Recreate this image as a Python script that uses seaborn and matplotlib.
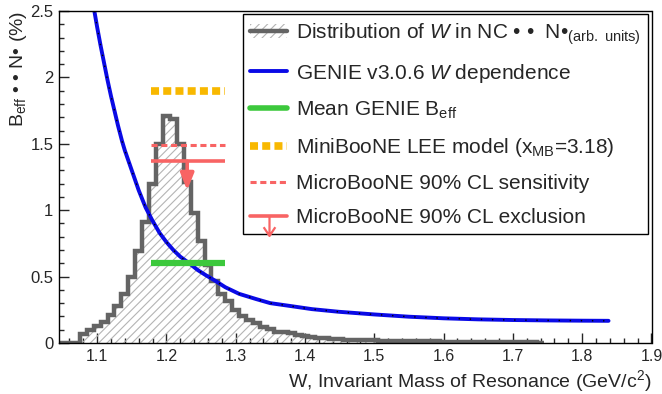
import numpy as np
import pandas as pd
import matplotlib
matplotlib.use("Agg")
import matplotlib.pyplot as plt
import matplotlib.transforms as mtransforms
from matplotlib.lines import Line2D
from matplotlib.patches import Patch
from matplotlib.path import Path
from matplotlib.ticker import MultipleLocator, FuncFormatter
import seaborn as sns

# histogram of W in NC events (arb. units), bin width 0.01 starting at 1.045
w_start = 1.045
bin_width = 0.01
hist_vals = [0, 0, 0, 0.07, 0.10, 0.13, 0.16, 0.21, 0.28, 0.37,
             0.50, 0.69, 0.91, 1.20, 1.50, 1.71, 1.69, 1.50, 1.21, 0.98,
             0.77, 0.59, 0.47, 0.37, 0.32, 0.25, 0.20, 0.17, 0.15, 0.12,
             0.105, 0.085, 0.08, 0.075, 0.06, 0.055, 0.045, 0.04, 0.04, 0.03,
             0.03, 0.025, 0.025, 0.025, 0.025, 0.02, 0.015, 0.015, 0.015, 0.015,
             0.015, 0.015, 0.015, 0.015, 0.015, 0.01, 0.01, 0.01, 0.01, 0.005,
             0.005, 0.005, 0.005, 0.005, 0.005, 0.005, 0.005, 0.005, 0.005, 0]

# GENIE v3.0.6 W dependence
genie_w = [1.096, 1.100, 1.105, 1.110, 1.115, 1.120, 1.125, 1.130, 1.136, 1.140,
           1.150, 1.160, 1.170, 1.180, 1.190, 1.200, 1.210, 1.220, 1.233, 1.245,
           1.257, 1.270, 1.285, 1.305, 1.330, 1.350, 1.377, 1.410, 1.449, 1.500,
           1.550, 1.600, 1.650, 1.700, 1.750, 1.800, 1.838]
genie_b = [2.50, 2.38, 2.24, 2.11, 1.98, 1.86, 1.75, 1.64, 1.52, 1.45,
           1.30, 1.15, 1.02, 0.92, 0.83, 0.76, 0.70, 0.65, 0.60, 0.55,
           0.51, 0.47, 0.42, 0.37, 0.33, 0.30, 0.28, 0.255, 0.235, 0.215,
           0.198, 0.186, 0.178, 0.173, 0.170, 0.168, 0.167]

# horizontal bands
band_w = [1.178, 1.285]
mean_beff = 0.60
miniboone = 1.90
sensitivity = 1.49
exclusion = 1.37
arrow_w = 1.23
arrow_tip = 1.15

edges = np.round(w_start + bin_width * np.arange(len(hist_vals) + 1), 4)
df_genie = pd.DataFrame({"W": genie_w, "B": genie_b})

sns.set_style("ticks")
plt.rcParams["font.family"] = ["Liberation Sans", "DejaVu Sans"]
plt.rcParams["mathtext.fontset"] = "custom"
plt.rcParams["mathtext.rm"] = "Liberation Sans"
plt.rcParams["mathtext.it"] = "Liberation Sans:italic"
plt.rcParams["hatch.linewidth"] = 0.8

c_gray = "#646464"
c_hatch = "#b4b4b4"
c_blue = "#0a0ae6"
c_green = "#3cc83c"
c_orange = "#f8b800"
c_red = "#f86464"

fig = plt.figure(figsize=(6.62, 3.94), dpi=100)
ax = fig.add_axes([59 / 662, 1 - 343 / 394, 592.5 / 662, 332 / 394])

# hatched fill + outline of the W distribution
ax.stairs(hist_vals, edges, fill=True, facecolor="none", edgecolor=c_hatch,
          hatch="////", linewidth=0)
ax.stairs(hist_vals, edges, color=c_gray, linewidth=3.2)

# GENIE curve
sns.lineplot(data=df_genie, x="W", y="B", color=c_blue, linewidth=2.8, ax=ax)
ax.plot(df_genie["W"], df_genie["B"], color="black", linewidth=1.0,
        linestyle=(0, (1, 7)))

ax.plot(band_w, [mean_beff] * 2, color=c_green, linewidth=4.5, solid_capstyle="butt")
ax.plot(band_w, [miniboone] * 2, color=c_orange, linewidth=5.5,
        linestyle=(0, (1.05, 0.55)), dash_capstyle="butt")
ax.plot(band_w, [sensitivity] * 2, color=c_red, linewidth=2.2,
        linestyle=(0, (2.0, 1.2)))
ax.plot(band_w, [exclusion] * 2, color=c_red, linewidth=2.6, solid_capstyle="butt")
ax.annotate("", xy=(arrow_w, arrow_tip), xytext=(arrow_w, exclusion),
            arrowprops=dict(arrowstyle="-|>,head_length=1.0,head_width=0.4",
                            color=c_red, linewidth=2.6, shrinkA=0, shrinkB=0))

ax.set_xlim(1.045, 1.9)
ax.set_ylim(0, 2.5)
ax.xaxis.set_major_locator(MultipleLocator(0.1))
ax.xaxis.set_minor_locator(MultipleLocator(0.02))
ax.yaxis.set_major_locator(MultipleLocator(0.5))
ax.yaxis.set_minor_locator(MultipleLocator(0.1))
ax.yaxis.set_major_formatter(FuncFormatter(lambda v, p: f"{v:g}"))
ax.xaxis.set_major_formatter(FuncFormatter(lambda v, p: f"{v:g}"))
ax.tick_params(which="major", direction="in", length=7, width=1,
               labelsize=12, top=False, right=False, pad=4)
ax.tick_params(axis="x", which="major", labelsize=11.5)
ax.tick_params(which="minor", direction="in", length=3.5, width=1,
               top=False, right=False)
for s in ax.spines.values():
    s.set_linewidth(1.0)
    s.set_color("black")

ax.set_xlabel("W, Invariant Mass of Resonance (GeV/c$^2$)", fontsize=14, loc="right")
ax.xaxis.set_label_coords(1.0, -0.075)
ax.set_ylabel("B$_{\\rm eff}$ • • N• (%)", fontsize=14, loc="top")
ax.yaxis.set_label_coords(-0.05, 1.0)

# legend
arrow_path = Path([(0, 0), (0, -1), (-0.3, -0.55), (0, -1), (0.3, -0.55)],
                  [Path.MOVETO, Path.LINETO, Path.MOVETO, Path.LINETO, Path.LINETO])
handles = [
    (Patch(facecolor="none", edgecolor=c_hatch, hatch="////", linewidth=0),
     Line2D([], [], color=c_gray, linewidth=3.2)),
    Line2D([], [], color=c_blue, linewidth=2.8),
    Line2D([], [], color=c_green, linewidth=4),
    Line2D([], [], color=c_orange, linewidth=5.5, linestyle=(0, (1.05, 0.55)), dash_capstyle="butt"),
    Line2D([], [], color=c_red, linewidth=2.2, linestyle=(0, (2.0, 1.2))),
    Line2D([], [], color=c_red, linewidth=2.6, marker=arrow_path, markersize=28,
           markeredgewidth=1.6, markeredgecolor=c_red, markerfacecolor="none"),
]
labels = [
    "Distribution of $W$ in NC • •  N•$_{\\rm (arb.\\ units)}$",
    "GENIE v3.0.6 $W$ dependence",
    "Mean GENIE B$_{\\rm eff}$",
    "MiniBooNE LEE model (x$_{\\rm MB}$=3.18)",
    "MicroBooNE 90% CL sensitivity",
    "MicroBooNE 90% CL exclusion",
]
leg = ax.legend(handles, labels, loc="upper right", bbox_to_anchor=(0.994, 0.991),
                borderaxespad=0, fontsize=15, frameon=True, fancybox=False,
                edgecolor="black", framealpha=1, handlelength=1.8,
                handletextpad=0.4, labelspacing=0.72, numpoints=1,
                borderpad=0.35)
leg.get_frame().set_linewidth(1.0)

# nudge the last x tick label so it stays inside the figure
fig.canvas.draw()
last = ax.get_xticklabels()[-1]
last.set_transform(last.get_transform() + mtransforms.ScaledTranslation(-3 / 100, 0, fig.dpi_scale_trans))

plt.savefig("out.png", dpi=100)
